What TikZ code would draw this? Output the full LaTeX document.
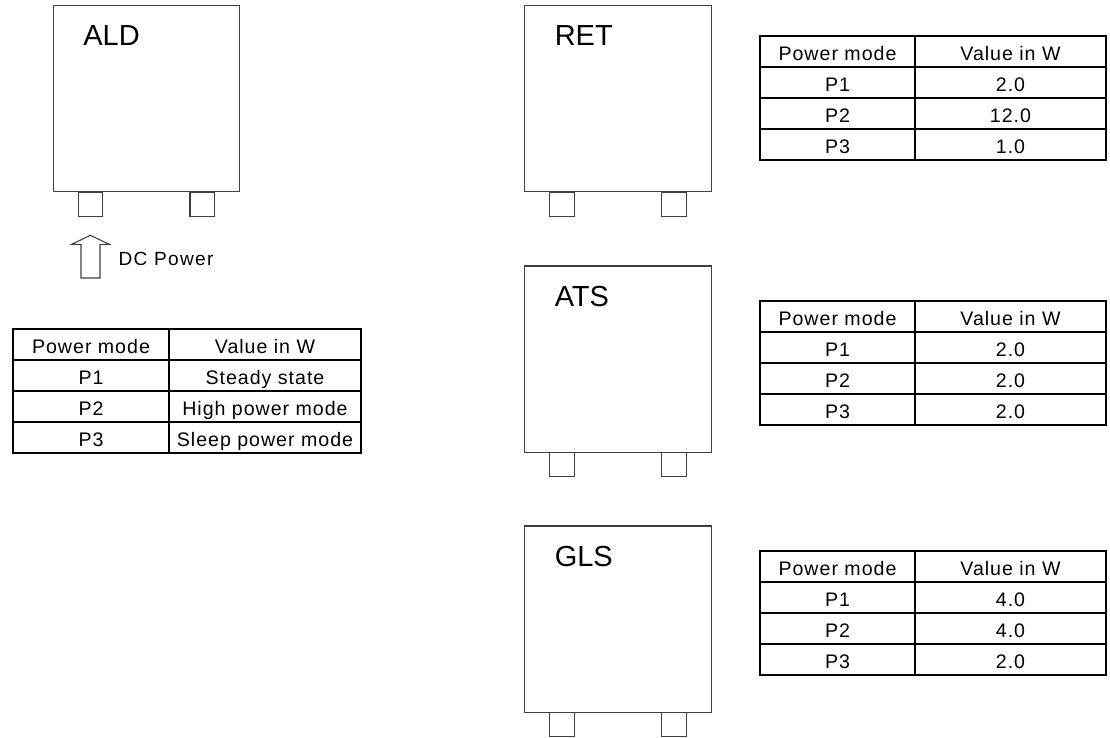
\documentclass[tikz,border=0pt]{standalone}
\usepackage{fontspec}
\setmainfont{Liberation Sans}
\newcommand{\device}[4]{%
  \node[devbox, anchor=north west] (#1) at (#2,#3) {};
  \node[foot] (#1-fl) at (#2+37.3,#3+186.3) {};
  \node[foot] (#1-fr) at (#2+149,#3+186.3) {};
  \node[devlabel] (#1-lbl) at (#2+29.8,#3+40) {#4};
}
\newcommand{\ptable}[8]{%
  \draw[tbl] (#2,#3) rectangle (#5,#3+124);
  \draw[tbl] (#4,#3) -- (#4,#3+124);
  \foreach \r in {1,2,3} {\draw[tbl] (#2,#3+31*\r) -- (#5,#3+31*\r);}
  \node[cell] (#1-h1) at ({(#2+#4)/2},#3+24.5) {Power mode};
  \node[cell] (#1-h2) at ({(#4+#5)/2},#3+24.5) {Value in W};
  \node[cell] (#1-a1) at ({(#2+#4)/2},#3+55.5) {P1};
  \node[cell] (#1-b1) at ({(#4+#5)/2},#3+55.5) {#6};
  \node[cell] (#1-a2) at ({(#2+#4)/2},#3+86.5) {P2};
  \node[cell] (#1-b2) at ({(#4+#5)/2},#3+86.5) {#7};
  \node[cell] (#1-a3) at ({(#2+#4)/2},#3+117.5) {P3};
  \node[cell] (#1-b3) at ({(#4+#5)/2},#3+117.5) {#8};
}
\begin{document}
\begin{tikzpicture}[x=0.75pt,y=-0.75pt,
  devbox/.style={draw=black!75, line width=0.8pt, minimum width=139.8pt, minimum height=139.7pt, inner sep=0pt, outer sep=0pt},
  foot/.style={draw=black!75, line width=0.8pt, minimum width=18.5pt, minimum height=18.2pt, inner sep=0pt, outer sep=0pt, anchor=north},
  devlabel/.style={anchor=base west, inner sep=0pt, font=\fontsize{21.75}{26}\selectfont},
  tbl/.style={draw=black, line width=1.1pt},
  cell/.style={anchor=base, inner sep=0pt, font=\fontsize{14.7}{17}\selectfont\addfontfeature{LetterSpace=5}},
  dclabel/.style={anchor=base west, inner sep=0pt, font=\fontsize{14.3}{17}\selectfont\addfontfeature{LetterSpace=7}},
  blockarrow/.style={draw=black!75, line width=0.8pt, fill=white}
]
\useasboundingbox (0,0) rectangle (1110,738);
\device{ald}{53.3}{5.7}{ALD}
\device{ret}{524.7}{5.7}{RET}
\device{ats}{524.7}{266}{ATS}
\device{gls}{524.7}{526}{GLS}
\draw[blockarrow] (81,278) -- (81,244.3) -- (71.7,244.3) -- (90.3,235.3) -- (109.3,244.3) -- (100,244.3) -- (100,278) -- cycle;
\node[dclabel] (dc) at (118.3,265.7) {DC Power};
\ptable{tald}{13}{329}{169}{361}{Steady state}{High power mode}{Sleep power mode}
\ptable{tret}{760}{36}{915}{1106}{2.0}{12.0}{1.0}
\ptable{tats}{760}{301}{915}{1106}{2.0}{2.0}{2.0}
\ptable{tgls}{760}{551}{915}{1106}{4.0}{4.0}{2.0}
\end{tikzpicture}
\end{document}
